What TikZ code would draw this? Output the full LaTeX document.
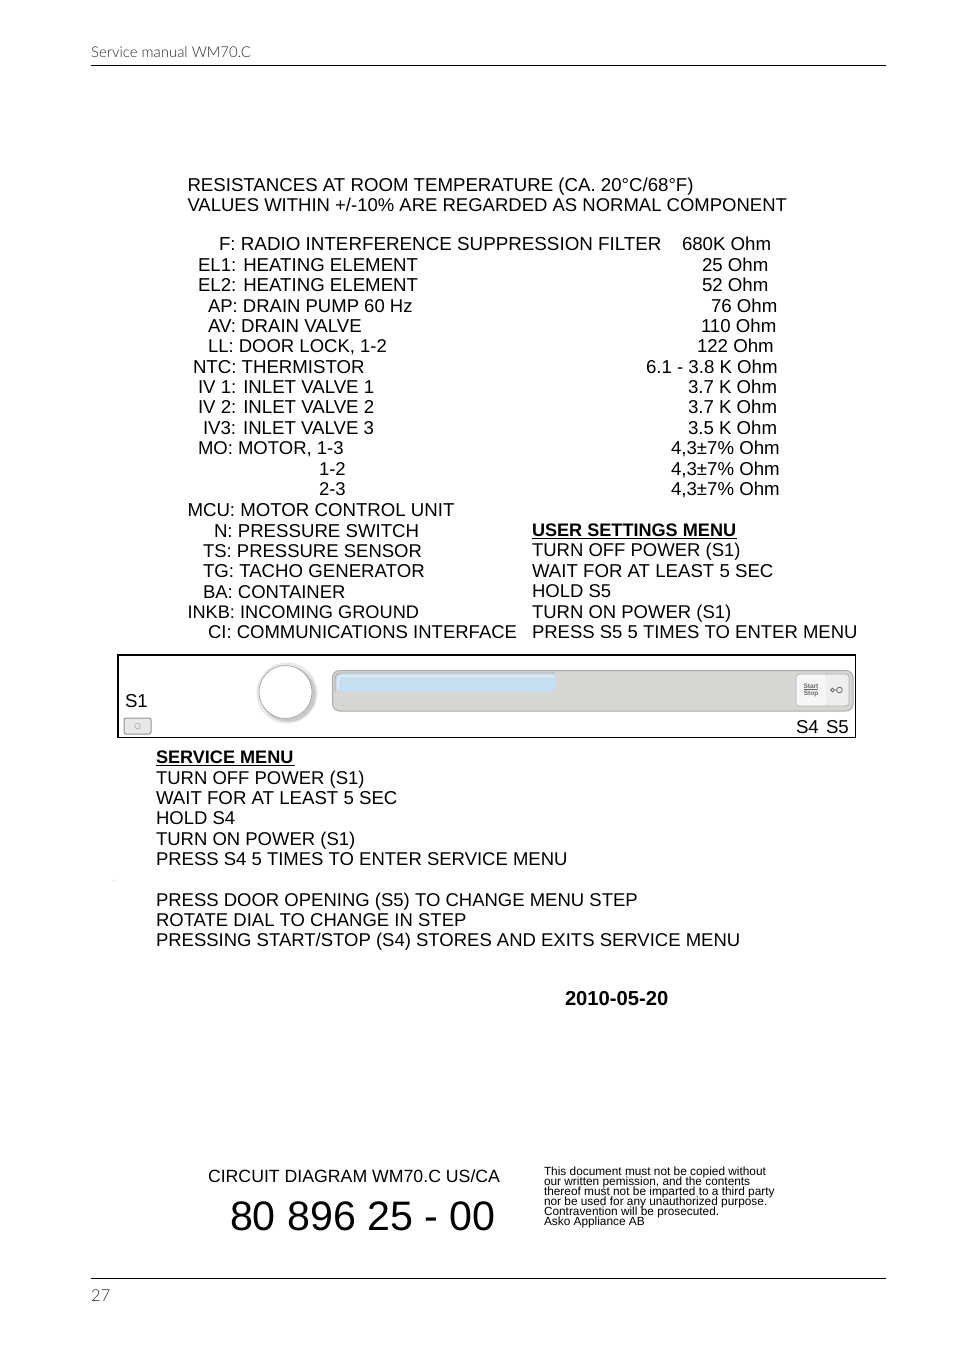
\documentclass[tikz,border=0pt]{standalone}
\usepackage{fontspec}
\setmainfont{Liberation Sans}
\newfontfamily\hdrfont{Lato Light}
\definecolor{hdrgray}{HTML}{2A2A2A}
\definecolor{panelgray}{HTML}{D6D6D2}
\definecolor{panelblue}{HTML}{C4E0F0}
\tikzset{
  txt/.style={anchor=base west,inner sep=0pt,outer sep=0pt,font=\fontsize{18.5}{19}\selectfont},
  val/.style={txt,font=\fontsize{18.65}{19}\selectfont},
  hdr/.style={anchor=base west,inner sep=0pt,font=\fontsize{14.9}{16}\selectfont\hdrfont,text=hdrgray},
  rule/.style={line width=1pt,black}
}
\newcommand{\TT}[4]{\node[txt] (#1) at (#2,#3) {#4};}
\newcommand{\VV}[4]{\node[val] (#1) at (#2,#3) {#4};}
\begin{document}
\begin{tikzpicture}[x=1pt,y=-1pt]
\useasboundingbox (0,0) rectangle (954,1350);
\fill[white] (0,0) rectangle (954,1350);
\node[hdr] (head) at (91,57) {Service manual WM70.C};
\node[hdr,font=\fontsize{16.5}{18}\selectfont\hdrfont] (page) at (91,1301) {27};
\coordinate (r1a) at (91,65); \coordinate (r1b) at (886,65);
\coordinate (r2a) at (91,1278); \coordinate (r2b) at (886,1278);
\draw[rule] (r1a) -- (r1b);
\draw[rule] (r2a) -- (r2b);
\VV{a1}{187.5}{191}{RESISTANCES AT ROOM TEMPERATURE (CA. 20°C/68°F)}
\TT{a2}{187.5}{211}{VALUES WITHIN +/-10\% ARE REGARDED AS NORMAL COMPONENT}
\node[txt,font=\fontsize{18.8}{19}\selectfont] (b1) at (219,250) {F: RADIO INTERFERENCE SUPPRESSION FILTER};
\VV{b2}{198}{271}{EL1: HEATING ELEMENT}
\VV{b3}{198}{291}{EL2: HEATING ELEMENT}
\TT{b4}{208}{312}{AP: DRAIN PUMP 60 Hz}
\VV{b5}{208}{332}{AV: DRAIN VALVE}
\TT{b6}{208}{352}{LL: DOOR LOCK, 1-2}
\VV{b7}{193}{373}{NTC: THERMISTOR}
\VV{b8}{198}{393}{IV 1: INLET VALVE 1}
\VV{b9}{198}{413}{IV 2: INLET VALVE 2}
\VV{b10}{203}{434}{IV3: INLET VALVE 3}
\TT{b11}{198}{454}{MO: MOTOR, 1-3}
\TT{b12}{319}{475}{1-2}
\TT{b13}{319}{495}{2-3}
\VV{b14}{187.5}{516}{MCU: MOTOR CONTROL UNIT}
\VV{b15}{214}{537}{N: PRESSURE SWITCH}
\TT{b16}{203}{557}{TS: PRESSURE SENSOR}
\VV{b17}{203}{577}{TG: TACHO GENERATOR}
\TT{b18}{203}{598}{BA: CONTAINER}
\node[txt,font=\fontsize{18.2}{19}\selectfont] (b19) at (187.5,618) {INKB: INCOMING GROUND};
\TT{b20}{208}{638}{CI: COMMUNICATIONS INTERFACE}
\VV{c1}{682}{250}{680K Ohm}
\VV{c2}{702}{271}{25 Ohm}
\VV{c3}{702}{291}{52 Ohm}
\VV{c4}{711}{312}{76 Ohm}
\VV{c5}{701}{332}{110 Ohm}
\VV{c6}{697}{352}{122 Ohm}
\VV{c7}{646}{373}{6.1 - 3.8 K Ohm}
\VV{c8}{688}{393}{3.7 K Ohm}
\VV{c9}{688}{413}{3.7 K Ohm}
\VV{c10}{688}{434}{3.5 K Ohm}
\VV{c11}{671}{454}{4,3±7\% Ohm}
\VV{c12}{671}{475}{4,3±7\% Ohm}
\VV{c13}{671}{495}{4,3±7\% Ohm}
\node[txt,font=\fontsize{18.1}{19}\selectfont\bfseries] (d0) at (532,536) {USER SETTINGS MENU};
\coordinate (d0a) at (532,538.5); \coordinate (d0b) at (737,538.5);
\draw[line width=1.4pt] (d0a) -- (d0b);
\TT{d1}{532}{556}{TURN OFF POWER (S1)}
\VV{d2}{532}{577}{WAIT FOR AT LEAST 5 SEC}
\TT{d3}{532}{597}{HOLD S5}
\TT{d4}{532}{618}{TURN ON POWER (S1)}
\TT{d5}{532}{638}{PRESS S5 5 TIMES TO ENTER MENU}
% panel
\draw[line width=1.4pt,black] (118,655) rectangle (855.5,737.5);
\draw[gray!65,fill=panelgray,line width=1pt,rounded corners=7pt] (332.5,670.5) rectangle (853,711);
\fill[panelblue,rounded corners=5pt] (336,673) rectangle (555,691);
\draw[white!70!panelblue,line width=1pt,rounded corners=4pt] (338,690) -- (338,676) -- (554,676);
\draw[gray!70,line width=.8pt,rounded corners=5pt] (335,691) -- (335,673) -- (555,673);
% dial
\fill[gray!18] (287,693) circle (30.5);
\fill[gray!42] (288,694) circle (27.8);
\fill[white] (285.5,692) circle (26.5);
\draw[gray!70,line width=.7pt] (285.5,692) circle (26.5);
% start/stop + key
\fill[gray!7] (796,674) rectangle (826,706);
\fill[gray!13,rounded corners=3pt] (826,674) rectangle (849,706);
\draw[gray!60,line width=.8pt,rounded corners=3pt] (796,674) rectangle (849,706);
\node[inner sep=0pt,font=\fontsize{6.5}{6.5}\bfseries\selectfont,align=center,text=gray!80!black] (startstop) at (811,690) {Start\\[.3pt]Stop};
\coordinate (sta) at (804,689.6); \coordinate (stb) at (818,689.6);
\draw[gray!80!black,line width=.6pt] (sta) -- (stb);
\draw[gray!70!black,line width=.7pt] (832.5,690) circle (1.8) (839.5,690) circle (2.8) (834.3,690) -- (836.7,690);
% S1 button
\fill[gray!18,rounded corners=2pt] (124,718) rectangle (151,734);
\draw[gray!85,line width=1pt,rounded corners=2pt] (124,718) rectangle (151,734);
\draw[gray!70,line width=.6pt] (137.5,726) circle (2.8);
\VV{s1}{125}{707}{S1}
\VV{s4}{796}{733}{S4}
\VV{s5}{826}{733}{S5}
% service menu
\node[txt,font=\fontsize{18.1}{19}\selectfont\bfseries] (e0) at (156,763) {SERVICE MENU};
\coordinate (e0a) at (156,765.5); \coordinate (e0b) at (295,765.5);
\draw[line width=1.4pt] (e0a) -- (e0b);
\TT{e1}{156}{784}{TURN OFF POWER (S1)}
\VV{e2}{156}{804}{WAIT FOR AT LEAST 5 SEC}
\TT{e3}{156}{824}{HOLD S4}
\TT{e4}{156}{845}{TURN ON POWER (S1)}
\TT{e5}{156}{865}{PRESS S4 5 TIMES TO ENTER SERVICE MENU}
\TT{e6}{156}{906}{PRESS DOOR OPENING (S5) TO CHANGE MENU STEP}
\TT{e7}{156}{926}{ROTATE DIAL TO CHANGE IN STEP}
\TT{e8}{156}{946}{PRESSING START/STOP (S4) STORES AND EXITS SERVICE MENU}
\fill[gray] (114,880) circle (.5);
\node[txt,font=\fontsize{20.2}{20}\selectfont\bfseries] (date) at (565,1005) {2010-05-20};
\node[txt,font=\fontsize{17.7}{19}\selectfont] (f1) at (208,1182) {CIRCUIT DIAGRAM WM70.C US/CA};
\node[txt,font=\fontsize{41.2}{42}\selectfont] (f2) at (230,1230) {80 896 25 - 00};
\foreach \nm/\yy/\tx in {g1/1175/This document must not be copied without,
  g2/1185/{our written pemission, and the contents},
  g3/1195/thereof must not be imparted to a third party,
  g4/1205/nor be used for any unauthorized purpose.,
  g5/1215/Contravention will be prosecuted.,
  g6/1225/Asko Appliance AB}
  {\node[txt,font=\fontsize{11.85}{12}\selectfont] (\nm) at (544,\yy) {\tx};}
\end{tikzpicture}
\end{document}
